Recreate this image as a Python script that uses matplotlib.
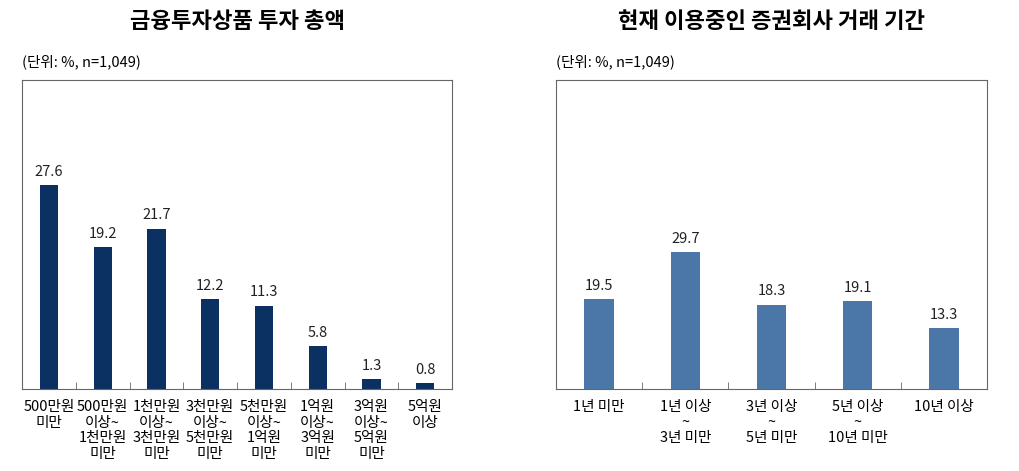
import matplotlib.pyplot as plt
import numpy as np

plt.rcParams['font.family'] = ['Noto Sans CJK KR', 'DejaVu Sans']

left_title = "금융투자상품 투자 총액"
left_labels = ["500만원\n미만", "500만원\n이상~\n1천만원\n미만", "1천만원\n이상~\n3천만원\n미만",
               "3천만원\n이상~\n5천만원\n미만", "5천만원\n이상~\n1억원\n미만", "1억원\n이상~\n3억원\n미만",
               "3억원\n이상~\n5억원\n미만", "5억원\n이상"]
left_values = [27.6, 19.2, 21.7, 12.2, 11.3, 5.8, 1.3, 0.8]

right_title = "현재 이용중인 증권회사 거래 기간"
right_labels = ["1년 미만", "1년 이상\n~\n3년 미만", "3년 이상\n~\n5년 미만",
                "5년 이상\n~\n10년 미만", "10년 이상"]
right_values = [19.5, 29.7, 18.3, 19.1, 13.3]

fig = plt.figure(figsize=(10.19, 4.71), dpi=100)

def panel(rect, labels, values, color, ymax, title):
    ax = fig.add_axes(rect)
    x = np.arange(len(values))
    ax.bar(x, values, width=0.34, color=color)
    for xi, v in zip(x, values):
        ax.text(xi, v + ymax * 0.02, f"{v:.1f}", ha='center', va='bottom', fontsize=10.5, color='#222222')
    ax.set_xlim(-0.5, len(values) - 0.5)
    ax.set_ylim(0, ymax)
    ax.set_yticks([])
    ax.set_xticks(x)
    ax.set_xticklabels(labels, fontsize=10.5, linespacing=1.15)
    ax.set_xticks(np.arange(len(values) - 1) + 0.5, minor=True)
    ax.tick_params(axis='x', which='major', length=0, pad=8)
    ax.tick_params(axis='x', which='minor', direction='in', length=5, color='#666666')
    for s in ax.spines.values():
        s.set_color('#666666')
        s.set_linewidth(0.8)
    ax.text(0.0, 1.035, "(단위: %, n=1,049)", transform=ax.transAxes, ha='left', va='bottom', fontsize=10.5)
    fig.text(rect[0] + rect[2] / 2, 0.955, title, ha='center', va='center', fontsize=16, fontweight='bold')
    return ax

panel([0.0216, 0.174, 0.422, 0.656], left_labels, left_values, '#0a3161', 41.8, left_title)
panel([0.5456, 0.174, 0.423, 0.656], right_labels, right_values, '#4a76a8', 67.0, right_title)

fig.savefig("out.png", dpi=100)
